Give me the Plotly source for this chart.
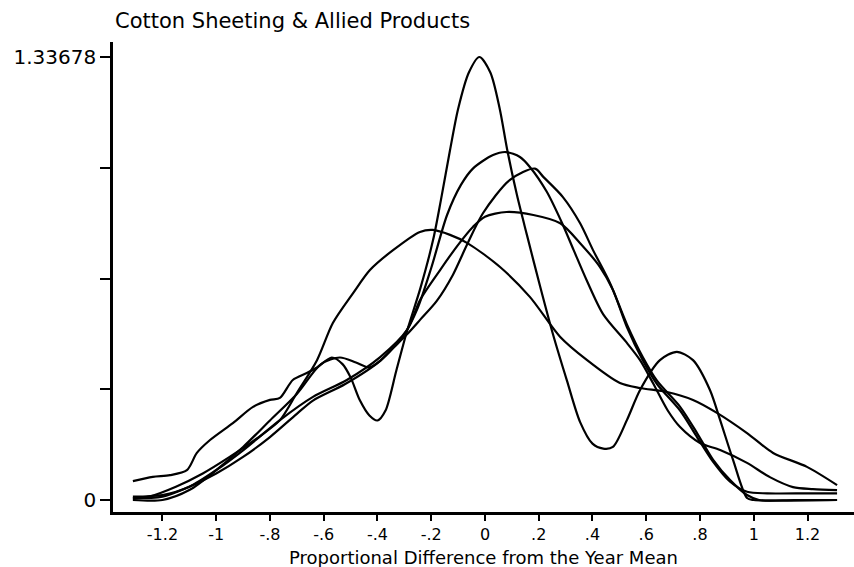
import plotly.graph_objects as go

# ---- data ----
A_x = [-1.31, -1.236, -1.172, -1.109, -1.072, -1.023, -0.938, -0.863, -0.8, -0.763,
       -0.715, -0.663, -0.625, -0.57, -0.53, -0.5, -0.465, -0.43, -0.40, -0.37,
       -0.33, -0.29, -0.24, -0.193, -0.164, -0.13, -0.10, -0.06, -0.021, 0.02,
       0.055, 0.082, 0.119, 0.156, 0.205, 0.253, 0.305, 0.354, 0.40, 0.44,
       0.476, 0.528, 0.577, 0.651, 0.714, 0.774, 0.837, 0.875, 0.923, 0.975,
       1.0, 1.31]
A_y = [0.057, 0.07, 0.075, 0.09, 0.142, 0.181, 0.232, 0.281, 0.302, 0.308,
       0.362, 0.383, 0.40, 0.43, 0.41, 0.37, 0.30, 0.255, 0.24, 0.27,
       0.39, 0.51, 0.64, 0.785, 0.905, 1.056, 1.18, 1.29, 1.33678, 1.29,
       1.18, 1.06, 0.92, 0.80, 0.645, 0.50, 0.36, 0.235, 0.17, 0.155,
       0.16, 0.241, 0.332, 0.422, 0.447, 0.422, 0.332, 0.241, 0.121, 0.006,
       0.0, 0.0]

B_x = [-1.31, -1.2, -1.1, -1.0, -0.9, -0.8, -0.7, -0.64, -0.52, -0.39,
       -0.3, -0.25, -0.2, -0.141, -0.09, -0.045, 0.03, 0.078, 0.13, 0.167,
       0.23, 0.29, 0.33, 0.38, 0.44, 0.528, 0.577, 0.625, 0.68, 0.726,
       0.8, 0.875, 0.975, 1.06, 1.146, 1.22, 1.31]
B_y = [0.005, 0.01, 0.04, 0.08, 0.13, 0.19, 0.26, 0.30, 0.35, 0.42,
       0.50, 0.58, 0.70, 0.86, 0.95, 1.0, 1.041, 1.05, 1.035, 1.005,
       0.93, 0.83, 0.754, 0.66, 0.56, 0.474, 0.422, 0.353, 0.27, 0.22,
       0.172, 0.151, 0.112, 0.069, 0.039, 0.033, 0.03]

C_x = [-1.31, -1.2, -1.1, -1.0, -0.9, -0.8, -0.7, -0.61, -0.54, -0.48,
       -0.43, -0.39, -0.34, -0.29, -0.24, -0.18, -0.119, -0.067, -0.007, 0.093,
       0.186, 0.217, 0.29, 0.354, 0.402, 0.465, 0.528, 0.588, 0.64, 0.726,
       0.789, 0.849, 0.912, 0.975, 1.02, 1.15, 1.31]
C_y = [0.0, 0.0, 0.03, 0.09, 0.16, 0.24, 0.32, 0.41, 0.43, 0.415,
       0.40, 0.42, 0.46, 0.50, 0.545, 0.60, 0.68, 0.77, 0.866, 0.966,
       1.0, 0.975, 0.914, 0.835, 0.754, 0.655, 0.53, 0.43, 0.36, 0.281,
       0.202, 0.121, 0.06, 0.015, 0.0, 0.0, 0.0]

D_x = [-1.31, -1.2, -1.1, -1.0, -0.9, -0.763, -0.64, -0.514, -0.39, -0.29,
       -0.242, -0.167, -0.1, -0.045, 0.0, 0.08, 0.18, 0.28, 0.354, 0.428,
       0.476, 0.528, 0.588, 0.64, 0.726, 0.789, 0.849, 0.912, 0.975, 1.05,
       1.2, 1.31]
D_y = [0.01, 0.015, 0.04, 0.09, 0.15, 0.241, 0.311, 0.362, 0.431, 0.513,
       0.603, 0.694, 0.77, 0.824, 0.855, 0.869, 0.86, 0.835, 0.775, 0.703,
       0.634, 0.522, 0.42, 0.35, 0.27, 0.19, 0.115, 0.055, 0.025, 0.02,
       0.02, 0.02]

E_x = [-1.31, -1.25, -1.15, -1.05, -0.95, -0.85, -0.763, -0.7, -0.625, -0.566,
       -0.49, -0.428, -0.342, -0.242, -0.194, -0.13, -0.067, 0.056, 0.167, 0.28,
       0.38, 0.502, 0.577, 0.677, 0.774, 0.863, 0.975, 1.072, 1.198, 1.31]
E_y = [0.005, 0.01, 0.04, 0.08, 0.13, 0.185, 0.241, 0.323, 0.422, 0.534,
       0.625, 0.694, 0.754, 0.809, 0.815, 0.8, 0.776, 0.703, 0.613, 0.492,
       0.422, 0.353, 0.338, 0.326, 0.302, 0.263, 0.202, 0.142, 0.1, 0.045]

x_tick_vals = [-1.2, -1.0, -0.8, -0.6, -0.4, -0.2, 0.0, 0.2, 0.4, 0.6, 0.8, 1.0, 1.2]
x_tick_text = ["-1.2", "-1", "-.8", "-.6", "-.4", "-.2", "0", ".2", ".4", ".6", ".8", "1", "1.2"]
y_max = 1.33678
y_tick_vals = [0, y_max / 4, y_max / 2, 3 * y_max / 4, y_max]
y_tick_text = ["0", "", "", "", "1.33678"]

title_text = "Cotton Sheeting & Allied Products"
x_title = "Proportional Difference from the Year Mean"

series = [(A_x, A_y), (B_x, B_y), (C_x, C_y), (D_x, D_y), (E_x, E_y)]
for xs, ys in series:
    assert len(xs) == len(ys)

FONT = "DejaVu Sans"
W, H = 854, 567
ML, MR, MT, MB = 113, 0, 42, 55
plot_h = H - MT - MB          # 470 px
px_per_unit = 331.4           # 0 at y=500, 1.33678 at y=57
y_lo = -(H - MB - 500) / px_per_unit
y_hi = y_lo + plot_h / px_per_unit

fig = go.Figure()
for xs, ys in series:
    fig.add_trace(go.Scatter(x=xs, y=ys, mode="lines",
                             line=dict(color="black", width=2.2, shape="spline", smoothing=0.8),
                             showlegend=False, hoverinfo="skip"))

fig.update_layout(
    width=W, height=H,
    margin=dict(l=ML, r=MR, t=MT, b=MB, pad=0),
    paper_bgcolor="white", plot_bgcolor="white",
    title=dict(text=title_text, x=115 / W, xanchor="left", xref="container",
               y=1 - 21 / H, yanchor="middle", yref="container",
               font=dict(family=FONT, size=21, color="black")),
    font=dict(family=FONT, color="black"),
)
fig.update_xaxes(range=[-1.384, 1.373], showgrid=False, zeroline=False,
                 showline=True, linecolor="black", linewidth=2.5,
                 ticks="outside", ticklen=6, tickwidth=2, tickcolor="black",
                 tickvals=x_tick_vals, ticktext=x_tick_text,
                 tickfont=dict(family=FONT, size=16, color="black"))
fig.update_yaxes(range=[y_lo, y_hi], showgrid=False, zeroline=False,
                 showline=True, linecolor="black", linewidth=2.5,
                 ticks="outside", ticklen=10, tickwidth=2, tickcolor="black",
                 tickvals=y_tick_vals, ticktext=y_tick_text,
                 tickfont=dict(family=FONT, size=20, color="black"))

fig.add_annotation(text=x_title, xref="paper", yref="paper",
                   x=0.5, y=-(557.5 - (H - MB)) / plot_h, xanchor="center", yanchor="middle",
                   showarrow=False, borderpad=0,
                   font=dict(family=FONT, size=18, color="black"))

fig.write_html("out.html")
